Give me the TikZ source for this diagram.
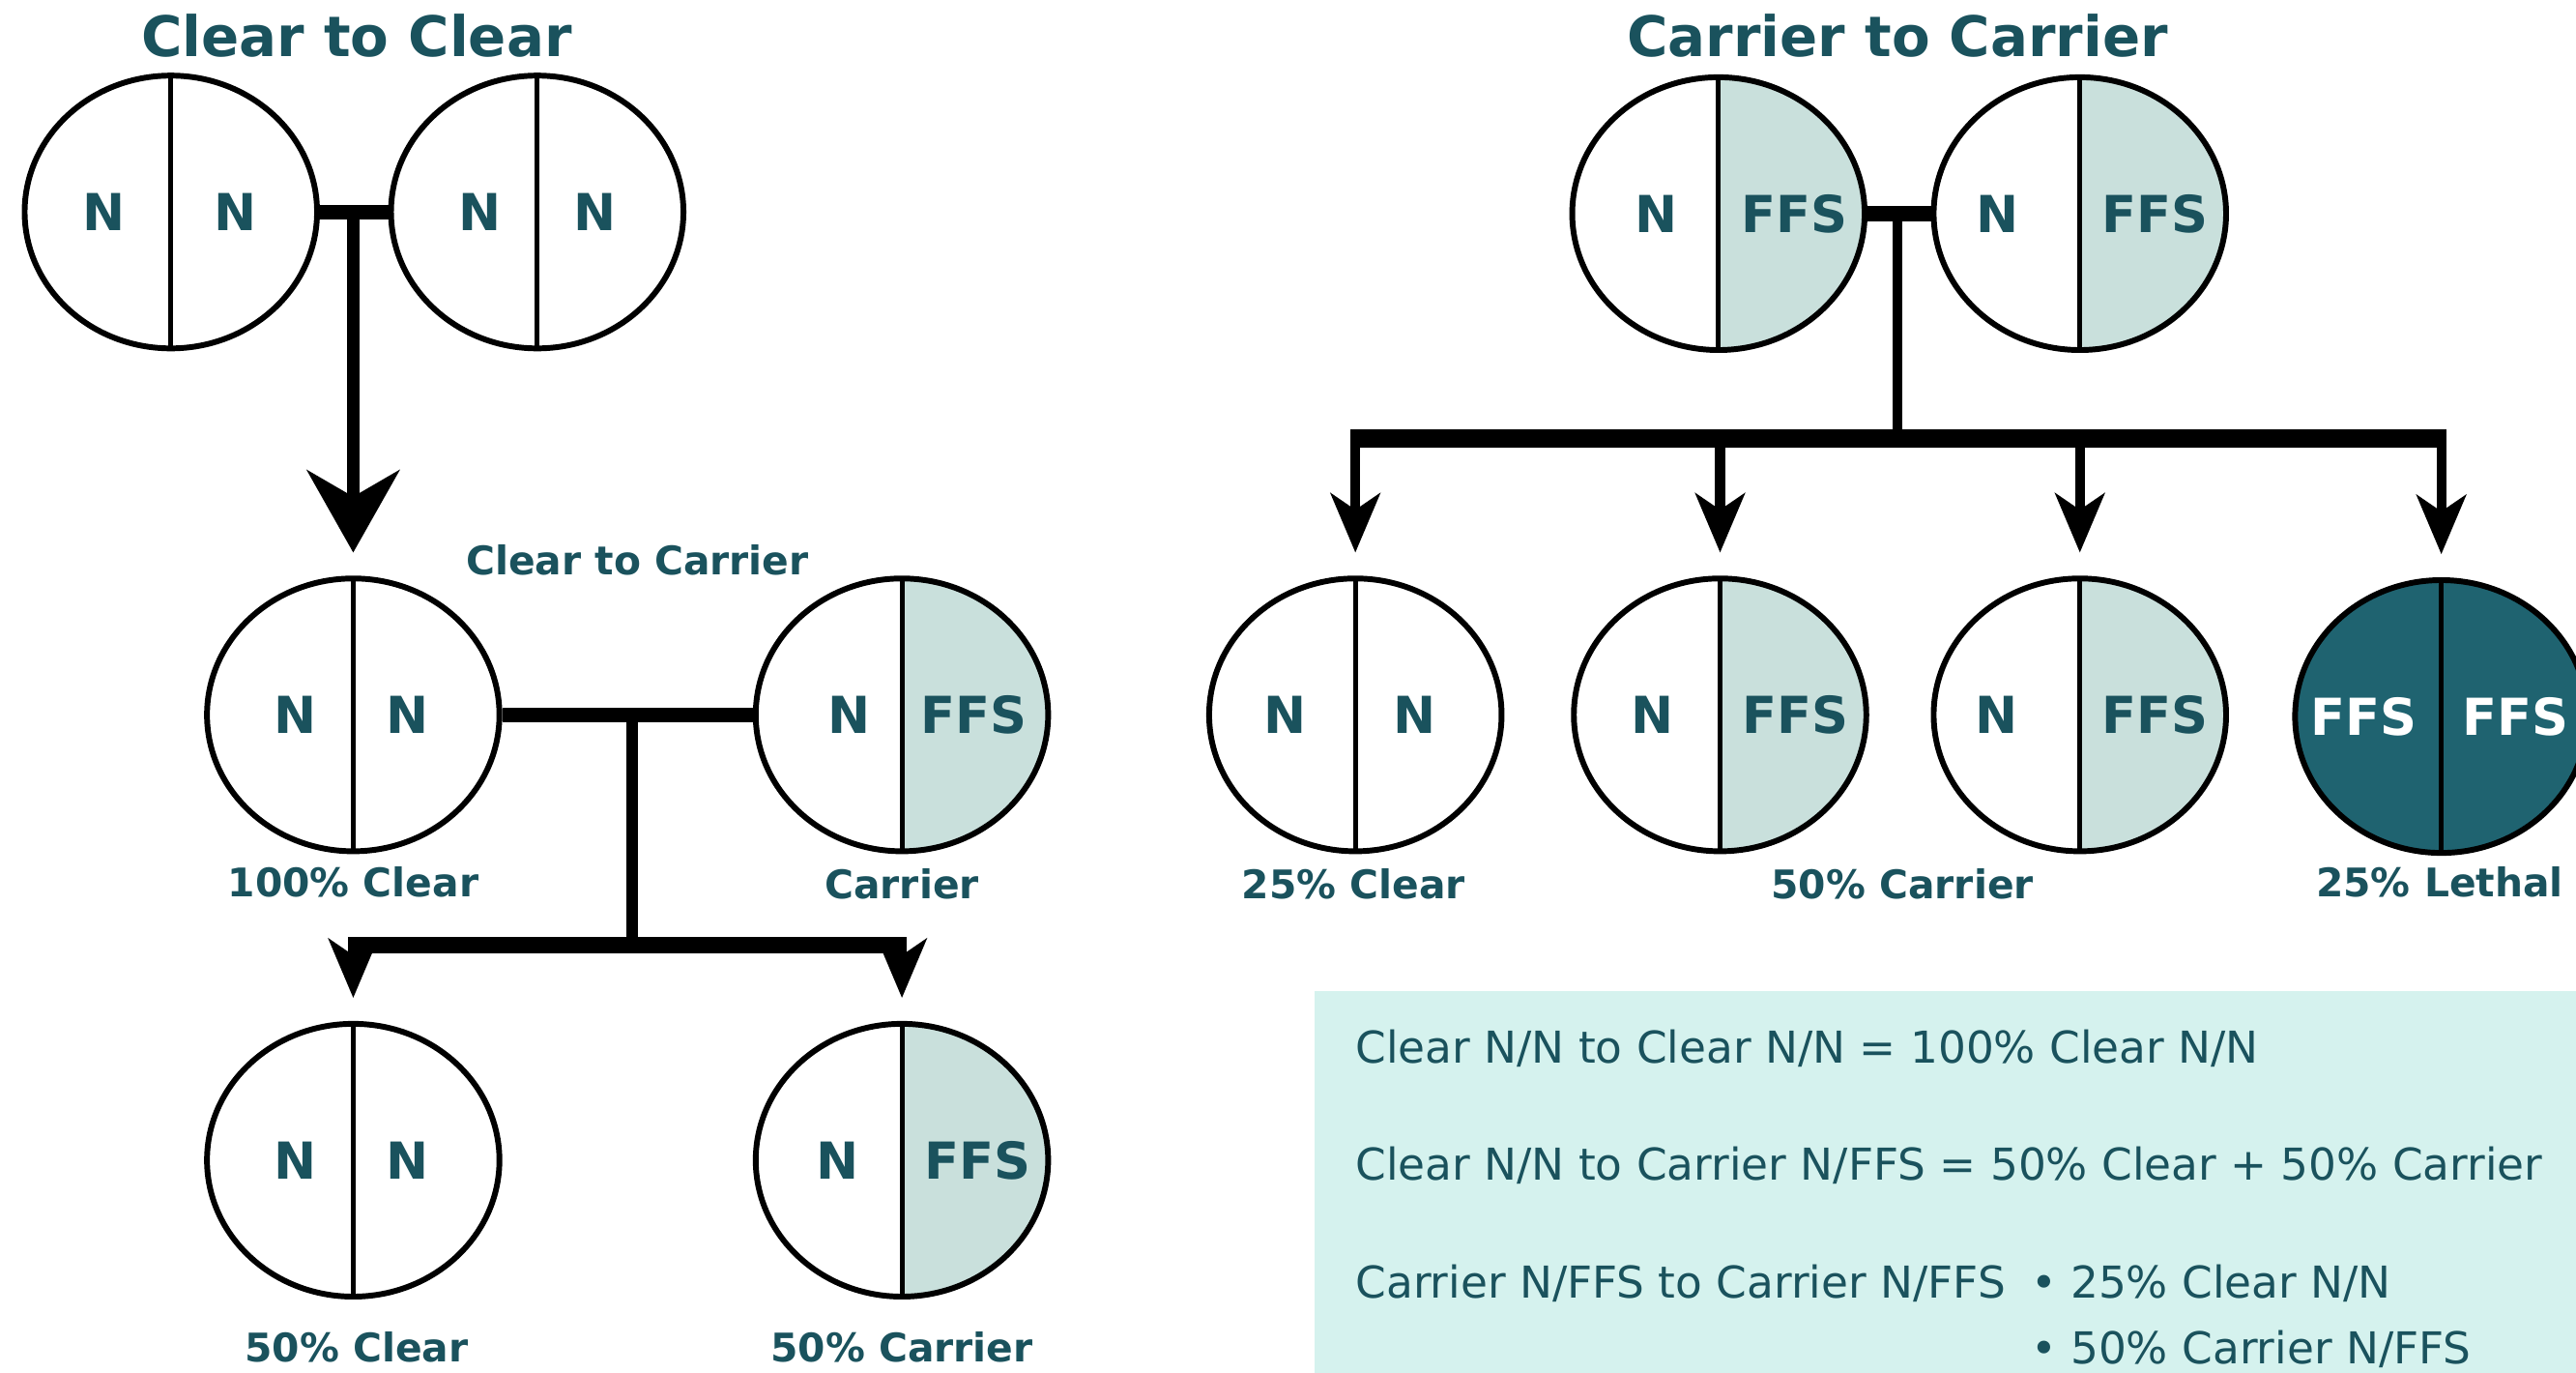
\documentclass[tikz,border=0pt]{standalone}
\usepackage{fontspec}
\setmainfont{DejaVu Sans}
\usetikzlibrary{arrows.meta,shapes.geometric}
\definecolor{tealtext}{HTML}{1A525D}
\definecolor{shadecol}{HTML}{C9E0DC}
\definecolor{lethalcol}{HTML}{1F6370}
\definecolor{boxcol}{HTML}{D5F2EE}
\tikzset{
  geno/.style={ellipse, draw=black, line width=3.5pt, minimum width=178pt, minimum height=166pt, inner sep=0pt, fill=white,
    path picture={\draw[line width=3pt] (path picture bounding box.north) -- (path picture bounding box.south);}},
  genoc/.style={geno,
    path picture={\fill[shadecol] (path picture bounding box.north) rectangle (path picture bounding box.south east);
                  \draw[line width=3pt] (path picture bounding box.north) -- (path picture bounding box.south);}},
  genol/.style={geno, fill=lethalcol},
  allele/.style={font=\bfseries\fontsize{31}{31}\selectfont, text=tealtext, inner sep=0pt},
  alleleW/.style={allele, text=white},
  lab/.style={font=\bfseries\fontsize{24}{24}\selectfont, text=tealtext, inner sep=0pt},
  ttl/.style={font=\bfseries\fontsize{34}{34}\selectfont, text=tealtext, inner sep=0pt},
  notetxt/.style={font=\fontsize{26.7}{26.7}\selectfont, text=tealtext, inner sep=0pt, anchor=base west},
  bar/.style={line width=9pt},
  bigarrow/.style={line width=8pt, -{Stealth[length=50pt,width=56pt,inset=16pt]}, shorten >=14pt},
  arr/.style={line width=6pt, -{Stealth[length=36pt,width=30pt,inset=10pt]}, shorten >=14pt},
}
\begin{document}
\begin{tikzpicture}[x=1pt,y=-1pt]
\useasboundingbox (0,0) rectangle (1568,835);

% summary box
\node[fill=boxcol, minimum width=768pt, minimum height=232pt, anchor=north west, inner sep=0pt] (notebox) at (800,603) {};

% titles
\node[ttl] (t1) at (217,22) {Clear to Clear};
\node[ttl] (t2) at (1155,22) {Carrier to Carrier};
\node[lab] (t3) at (388,341) {Clear to Carrier};

% ---- left tree ----
\node[geno] (a1) at (104,129) {};
\node[geno] (a2) at (327,129) {};
\node[geno] (b1) at (215,435) {};
\node[genoc] (b2) at (549,435) {};
\node[geno] (c1) at (215,706) {};
\node[genoc] (c2) at (549,706) {};

% ---- right tree ----
\node[genoc] (d1) at (1046,130) {};
\node[genoc] (d2) at (1266,130) {};
\node[geno] (e1) at (825,435) {};
\node[genoc] (e2) at (1047,435) {};
\node[genoc] (e3) at (1266,435) {};
\node[genol] (e4) at (1486,436) {};

% alleles
\node[allele] (a1l) at ([xshift=-41pt]a1.center) {N};
\node[allele] (a1r) at ([xshift=39pt]a1.center) {N};
\node[allele] (a2l) at ([xshift=-35pt]a2.center) {N};
\node[allele] (a2r) at ([xshift=35pt]a2.center) {N};
\node[allele] (b1l) at ([xshift=-35pt]b1.center) {N};
\node[allele] (b1r) at ([xshift=33pt]b1.center) {N};
\node[allele] (b2l) at ([xshift=-32pt]b2.center) {N};
\node[allele] (b2r) at ([xshift=44pt]b2.center) {FFS};
\node[allele] (c1l) at ([xshift=-35pt]c1.center) {N};
\node[allele] (c1r) at ([xshift=33pt]c1.center) {N};
\node[allele] (c2l) at ([xshift=-39pt]c2.center) {N};
\node[allele] (c2r) at ([xshift=46pt]c2.center) {FFS};
\node[allele] (d1l) at ([xshift=-38pt]d1.center) {N};
\node[allele] (d1r) at ([xshift=46pt]d1.center) {FFS};
\node[allele] (d2l) at ([xshift=-50pt]d2.center) {N};
\node[allele] (d2r) at ([xshift=46pt]d2.center) {FFS};
\node[allele] (e1l) at ([xshift=-43pt]e1.center) {N};
\node[allele] (e1r) at ([xshift=36pt]e1.center) {N};
\node[allele] (e2l) at ([xshift=-41pt]e2.center) {N};
\node[allele] (e2r) at ([xshift=46pt]e2.center) {FFS};
\node[allele] (e3l) at ([xshift=-51pt]e3.center) {N};
\node[allele] (e3r) at ([xshift=46pt]e3.center) {FFS};
\node[alleleW] (e4l) at ([xshift=-47pt]e4.center) {FFS};
\node[alleleW] (e4r) at ([xshift=45pt]e4.center) {FFS};

% labels
\node[lab] (lb1) at (215,537) {100\% Clear};
\node[lab] (lb2) at (549,538) {Carrier};
\node[lab] (lc1) at (217,820) {50\% Clear};
\node[lab] (lc2) at (549,820) {50\% Carrier};
\node[lab] (le1) at (824,538) {25\% Clear};
\node[lab] (le23) at (1158,538) {50\% Carrier};
\node[lab] (le4) at (1485,537) {25\% Lethal};

% connectors, left
\draw[bar] (a1.east) -- (a2.west);
\coordinate (j1) at (215,129);
\draw[bigarrow] (j1) -- (b1.north);

\draw[bar] (b1.east) -- (b2.west);
\coordinate (j2) at (385,435);
\coordinate (j2b) at (385,575);
\coordinate (l2) at (215,575);
\coordinate (r2) at (549,575);
\draw[line width=7pt] (j2) -- (j2b);
\draw[line width=10pt] ([xshift=-3pt]l2) -- ([xshift=3pt]r2);
\draw[arr] (l2) -- (c1.north);
\draw[arr] (r2) -- (c2.north);

% connectors, right
\draw[bar] (d1.east) -- (d2.west);
\coordinate (j3) at (1155,130);
\coordinate (j3b) at (1155,267);
\draw[line width=6pt] (j3) -- (j3b);
\coordinate (m1) at (825,267);
\coordinate (m2) at (1047,267);
\coordinate (m3) at (1266,267);
\coordinate (m4) at (1486,267);
\draw[line width=11pt] ([xshift=-3pt]m1) -- ([xshift=3pt]m4);
\draw[arr] (m1) -- (e1.north);
\draw[arr] (m2) -- (e2.north);
\draw[arr] (m3) -- (e3.north);
\draw[arr] (m4) -- (e4.north);

% summary text
\node[notetxt] (n1) at (825,647) {Clear N/N to Clear N/N = 100\% Clear N/N};
\node[notetxt] (n2) at (825,718) {Clear N/N to Carrier N/FFS = 50\% Clear + 50\% Carrier};
\node[notetxt] (n3) at (825,790) {Carrier N/FFS to Carrier N/FFS};
\node[notetxt] (n3b) at (1236,790) {• 25\% Clear N/N};
\node[notetxt] (n4) at (1236,830) {• 50\% Carrier N/FFS};
\end{tikzpicture}
\end{document}
